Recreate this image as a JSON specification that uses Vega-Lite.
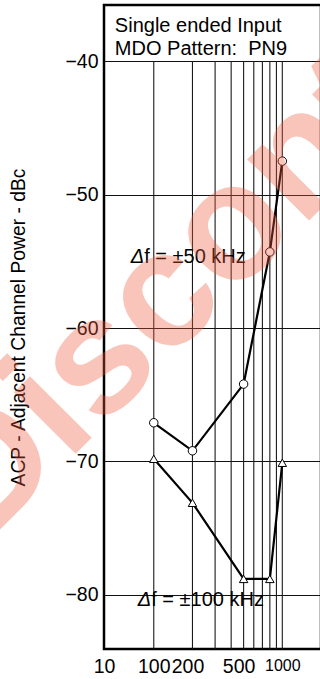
{
  "$schema": "https://vega.github.io/schema/vega-lite/v6.json",
  "width": 217,
  "height": 644,
  "autosize": {"type": "none"},
  "padding": {"left": 104, "top": 5, "right": 0, "bottom": 30},
  "background": "white",
  "config": {
    "view": {"stroke": "black", "strokeWidth": 2.5},
    "font": "Liberation Sans",
    "axis": {"labelColor": "black", "titleColor": "black", "labelFont": "Liberation Sans", "titleFont": "Liberation Sans"}
  },
  "datasets": {
    "acp": [
      {"f": 100, "acp": -67.1, "spacing": "±50 kHz"},
      {"f": 200, "acp": -69.2, "spacing": "±50 kHz"},
      {"f": 500, "acp": -64.2, "spacing": "±50 kHz"},
      {"f": 800, "acp": -54.3, "spacing": "±50 kHz"},
      {"f": 1000, "acp": -47.5, "spacing": "±50 kHz"},
      {"f": 100, "acp": -69.8, "spacing": "±100 kHz"},
      {"f": 200, "acp": -73.1, "spacing": "±100 kHz"},
      {"f": 500, "acp": -78.8, "spacing": "±100 kHz"},
      {"f": 800, "acp": -78.8, "spacing": "±100 kHz"},
      {"f": 1000, "acp": -70.1, "spacing": "±100 kHz"}
    ],
    "decades": [
      {"f": 100}, {"f": 200}, {"f": 300}, {"f": 400}, {"f": 500},
      {"f": 600}, {"f": 700}, {"f": 800}, {"f": 900}, {"f": 1000}
    ],
    "curveLabels": [
      {"t": "f = ±50 kHz", "f": 66.3, "acp": -55.1},
      {"t": "f = ±100 kHz", "f": 75.1, "acp": -80.8}
    ],
    "header": [
      {"t": "Single ended Input", "f": 49.8, "acp": -37.8},
      {"t": "MDO Pattern:\u00a0 PN9", "f": 49.8, "acp": -39.55}
    ],
    "stamp": [
      {"t": "Discontinued", "f": 4.72, "acp": -76.36}
    ]
  },
  "layer": [
    {
      "data": {"name": "decades"},
      "mark": {"type": "rule", "color": "#1a1a1a", "strokeWidth": 1.1},
      "encoding": {
        "x": {
          "field": "f", "type": "quantitative",
          "scale": {"type": "log", "domain": [41, 2000], "nice": false},
          "axis": {
            "values": [41, 100, 200, 500, 1000],
            "format": "d",
            "labelExpr": "datum.value < 50 ? '10' : datum.label",
            "grid": false, "ticks": false, "tickSize": 0, "domain": false,
            "labelFontSize": {"condition": {"test": "datum.value >= 1000", "value": 16}, "value": 19.5},
            "labelOffset": {"condition": {"test": "datum.value == 200 || datum.value == 500", "value": -5}, "value": 0},
            "labelPadding": 8, "labelFlush": false, "labelOverlap": false,
            "title": null
          }
        },
        "y": {
          "datum": -40, "type": "quantitative",
          "scale": {"domain": [-84.05, -35.8], "nice": false, "zero": false},
          "axis": {
            "values": [-40, -50, -60, -70, -80],
            "grid": true, "gridColor": "#111111", "gridWidth": 1.2,
            "ticks": false, "tickSize": 0, "domain": false,
            "labelPadding": 6, "labelFontSize": 19.5,
            "title": "ACP - Adjacent Channel Power - dBc",
            "titleFontSize": 19.3, "titleFontWeight": "normal", "titlePadding": 36
          }
        },
        "y2": {"datum": -84.05}
      }
    },
    {
      "mark": {"type": "rect", "color": "white"},
      "encoding": {
        "x": {"datum": 62.8, "type": "quantitative"},
        "x2": {"datum": 557},
        "y": {"datum": -53.6, "type": "quantitative"},
        "y2": {"datum": -55.2}
      }
    },
    {
      "mark": {"type": "rect", "color": "white"},
      "encoding": {
        "x": {"datum": 67.4, "type": "quantitative"},
        "x2": {"datum": 887},
        "y": {"datum": -79.55, "type": "quantitative"},
        "y2": {"datum": -81.1}
      }
    },
    {
      "data": {"name": "curveLabels"},
      "mark": {"type": "text", "align": "left", "baseline": "alphabetic", "fontSize": 20, "fontStyle": "italic", "color": "black", "text": "Δ"},
      "encoding": {
        "x": {"field": "f", "type": "quantitative"},
        "y": {"field": "acp", "type": "quantitative"}
      }
    },
    {
      "data": {"name": "curveLabels"},
      "mark": {"type": "text", "align": "left", "baseline": "alphabetic", "fontSize": 20, "color": "black", "dx": 13.4},
      "encoding": {
        "x": {"field": "f", "type": "quantitative"},
        "y": {"field": "acp", "type": "quantitative"},
        "text": {"field": "t"}
      }
    },
    {
      "data": {"name": "acp"},
      "mark": {"type": "line", "color": "black", "strokeWidth": 2.2},
      "encoding": {
        "x": {"field": "f", "type": "quantitative"},
        "y": {"field": "acp", "type": "quantitative"},
        "detail": {"field": "spacing"}
      }
    },
    {
      "data": {"name": "acp"},
      "mark": {"type": "point", "filled": false, "fill": "white", "fillOpacity": 1, "stroke": "black", "strokeWidth": 1, "size": 72, "opacity": 1},
      "encoding": {
        "x": {"field": "f", "type": "quantitative"},
        "y": {"field": "acp", "type": "quantitative"},
        "shape": {
          "field": "spacing", "type": "nominal",
          "scale": {"domain": ["±50 kHz", "±100 kHz"], "range": ["circle", "triangle-up"]},
          "legend": null
        }
      }
    },
    {
      "data": {"name": "header"},
      "mark": {"type": "text", "align": "left", "baseline": "alphabetic", "fontSize": 20, "color": "black"},
      "encoding": {
        "x": {"field": "f", "type": "quantitative"},
        "y": {"field": "acp", "type": "quantitative"},
        "text": {"field": "t"}
      }
    },
    {
      "data": {"name": "stamp"},
      "mark": {"type": "text", "align": "left", "baseline": "alphabetic", "angle": -45, "fontSize": 165, "fontWeight": "bold", "color": "#ef5a3c", "opacity": 0.35},
      "encoding": {
        "x": {"field": "f", "type": "quantitative"},
        "y": {"field": "acp", "type": "quantitative"},
        "text": {"field": "t"}
      }
    }
  ]
}
